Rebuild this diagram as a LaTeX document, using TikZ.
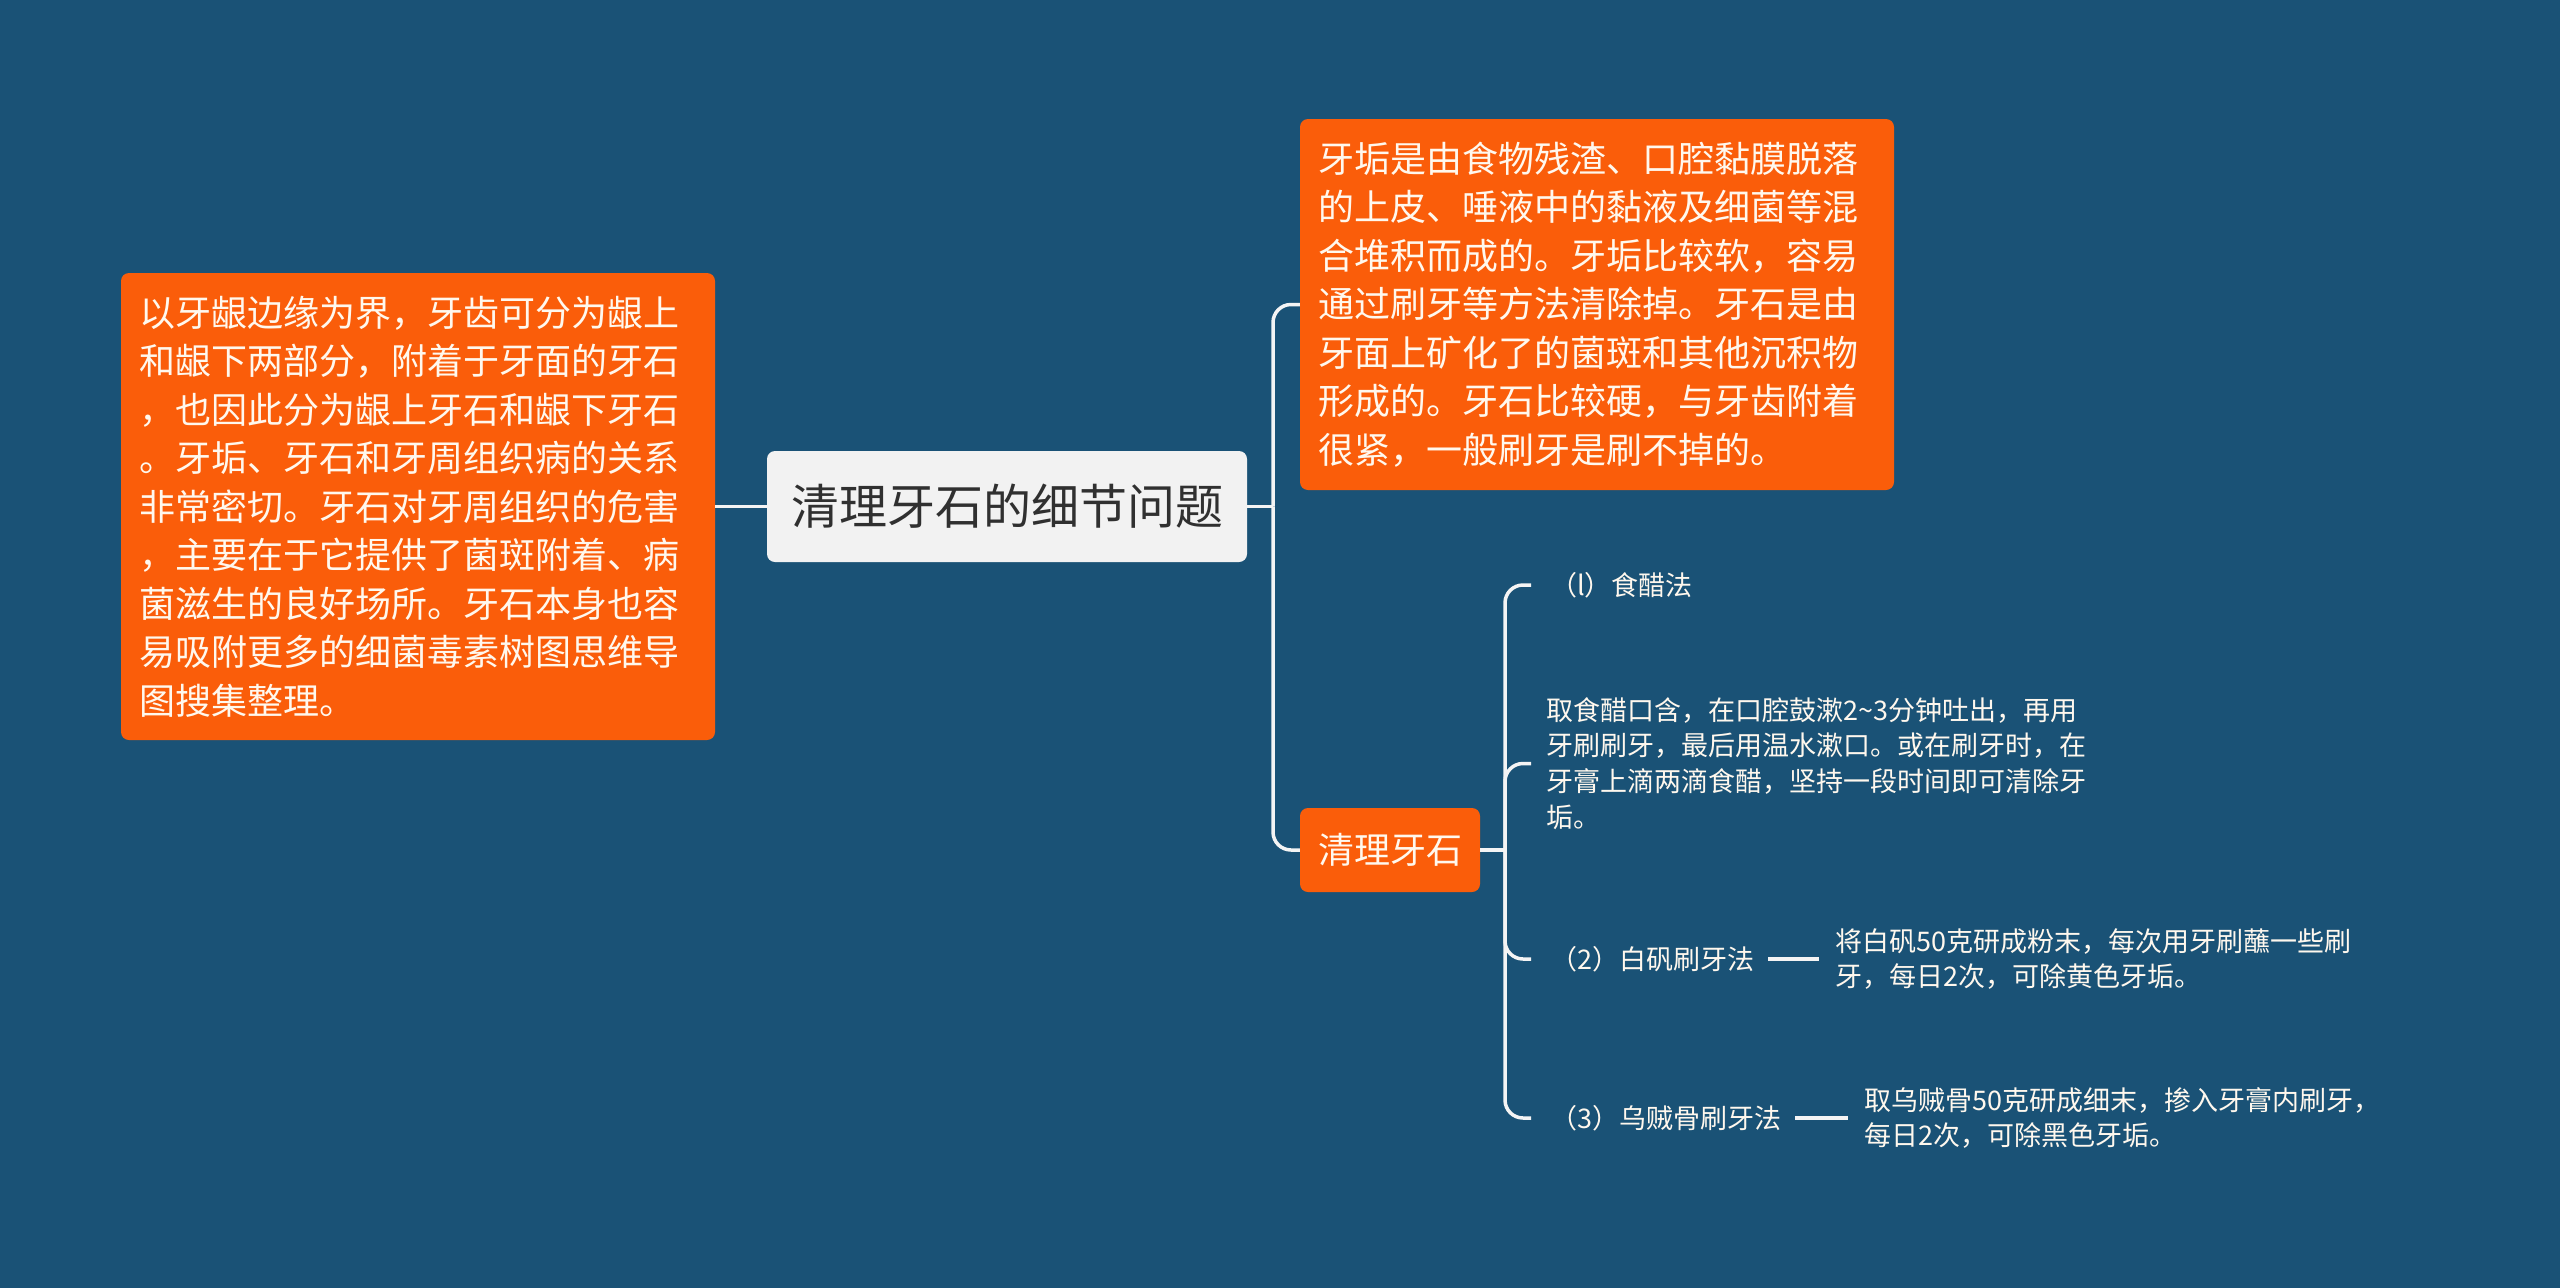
\documentclass[tikz,border=0pt]{standalone}
\usepackage{fontspec}
\newfontfamily\cjk{Noto Sans CJK SC}
\definecolor{bg}{HTML}{1A5276}
\definecolor{orng}{HTML}{FA5D0A}
\definecolor{rootfill}{HTML}{F2F2F2}
\definecolor{roottext}{HTML}{303030}
\definecolor{txtw}{HTML}{FFF8EE}
\definecolor{linec}{HTML}{F4F4F4}
\begin{document}
\begin{tikzpicture}[x=1pt,y=-1pt,
  obox/.style={fill=orng, rounded corners=8pt, text=txtw, align=left, inner xsep=18pt, inner ysep=0pt},
  big/.style={font=\cjk\fontsize{36pt}{48.5pt}\selectfont},
  conn/.style={draw=linec, line width=3.5pt, rounded corners=18pt},
  subtxt/.style={text=txtw, align=left, inner sep=0pt, font=\cjk\fontsize{27pt}{35.6pt}\selectfont}]
\fill[bg] (0,0) rectangle (2560,1288);

% nodes
\node[fill=rootfill, rounded corners=8pt, text=roottext, minimum width=480pt, minimum height=111pt, inner sep=0pt,
  font=\cjk\fontsize{48pt}{56pt}\selectfont] (root) at (1007,506.5) {清理牙石的细节问题};

\node[obox, big, text width=558pt, minimum height=467pt] (lb) at (418,506.5)
 {以牙龈边缘为界，牙齿可分为龈上\\和龈下两部分，附着于牙面的牙石\\，也因此分为龈上牙石和龈下牙石\\。牙垢、牙石和牙周组织病的关系\\非常密切。牙石对牙周组织的危害\\，主要在于它提供了菌斑附着、病\\菌滋生的良好场所。牙石本身也容\\易吸附更多的细菌毒素树图思维导\\图搜集整理。};

\node[obox, big, text width=558pt, minimum height=371pt] (tb) at (1597,304.5)
 {牙垢是由食物残渣、口腔黏膜脱落\\的上皮、唾液中的黏液及细菌等混\\合堆积而成的。牙垢比较软，容易\\通过刷牙等方法清除掉。牙石是由\\牙面上矿化了的菌斑和其他沉积物\\形成的。牙石比较硬，与牙齿附着\\很紧，一般刷牙是刷不掉的。};

\node[obox, big, inner xsep=0pt, minimum width=180pt, minimum height=84pt, align=center] (ql) at (1390,850) {清理牙石};

\node[subtxt, anchor=west] (s1) at (1550,585) {（l）食醋法};
\node[subtxt, anchor=west] (d1) at (1546,763.5)
 {取食醋口含，在口腔鼓漱2\textasciitilde3分钟吐出，再用\\牙刷刷牙，最后用温水漱口。或在刷牙时，在\\牙膏上滴两滴食醋，坚持一段时间即可清除牙\\垢。};
\node[subtxt, anchor=west] (s2) at (1550,959) {（2）白矾刷牙法};
\node[subtxt, anchor=west] (d2) at ([xshift=81pt]s2.east)
 {将白矾50克研成粉末，每次用牙刷蘸一些刷\\牙，每日2次，可除黄色牙垢。};
\node[subtxt, anchor=west] (s3) at (1550,1118) {（3）乌贼骨刷牙法};
\node[subtxt, anchor=west] (d3) at ([xshift=83pt]s3.east)
 {取乌贼骨50克研成细末，掺入牙膏内刷牙，\\每日2次，可除黑色牙垢。};

% connectors
\coordinate (j1) at (1273,506.5);
\coordinate (j2) at (1505,850);
\draw[conn] (lb.east) -- (root.west);
\draw[conn] (root.east) -- (j1);
\draw[conn] (j1) |- (tb.west);
\draw[conn] (j1) |- (ql.west);
\draw[conn] (ql.east) -- (j2);
\draw[conn] (j2) |- ([xshift=-19pt]s1.west);
\draw[conn] (j2) |- ([xshift=-15pt]d1.west);
\draw[conn] (j2) |- ([xshift=-19pt]s2.west);
\draw[conn] (j2) |- ([xshift=-19pt]s3.west);
\draw[conn] ([xshift=14pt]s2.east) -- ([xshift=-16pt]d2.west);
\draw[conn] ([xshift=14pt]s3.east) -- ([xshift=-16pt]d3.west);
\end{tikzpicture}
\end{document}
